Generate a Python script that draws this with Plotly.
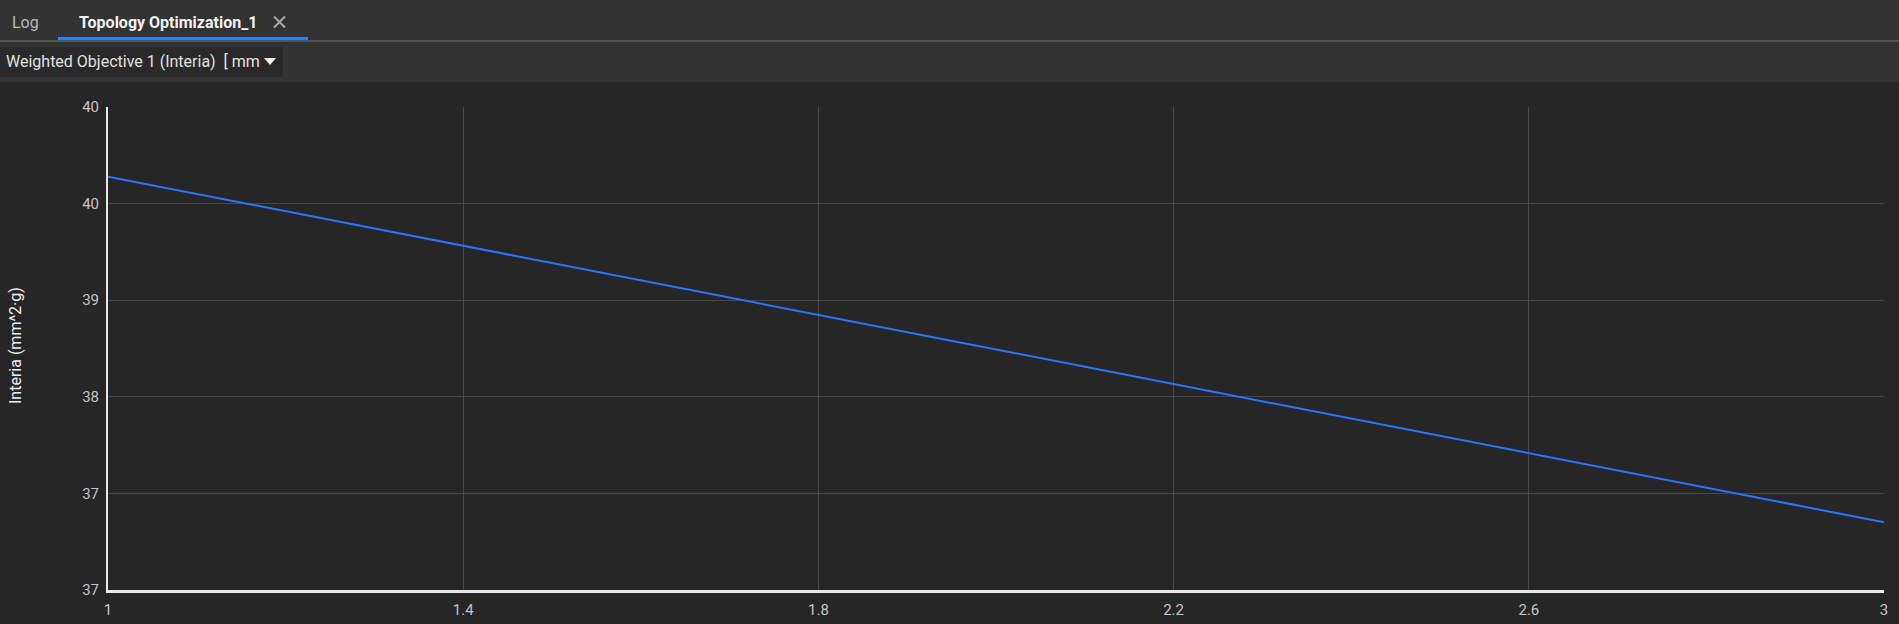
import plotly.graph_objects as go

# ---- data ----
iterations = [1, 2, 3]
inertia = [39.852, 38.492, 37.133]
x_tick_vals = [1, 1.4, 1.8, 2.2, 2.6, 3]
x_tick_text = ["1", "1.4", "1.8", "2.2", "2.6", "3"]
y_tick_vals = [36.6, 37.36, 38.12, 38.88, 39.64, 40.4]
y_tick_text = ["37", "37", "38", "39", "40", "40"]
y_title = "Interia (mm^2·g)"
tab_labels = ["Log", "Topology Optimization_1"]
dropdown_label = "Weighted Objective 1 (Interia)  [ mm"

W, H = 1899, 624
L, R, T, B = 108, 15, 107, 34
PW, PH = W - L - R, H - T - B


def px(x):
    return (x - L) / PW


def py(y):
    return (H - B - y) / PH


FONT = "Roboto"

fig = go.Figure()
fig.add_trace(go.Scatter(
    x=iterations, y=inertia, mode="lines",
    line=dict(color="#2b74ff", width=2), hoverinfo="skip", showlegend=False,
))

shapes = [
    dict(type="rect", xref="paper", yref="paper", x0=px(0), x1=px(W), y0=py(0), y1=py(82),
         fillcolor="#333333", line=dict(width=0), layer="below"),
    dict(type="line", xref="paper", yref="paper", x0=px(0), x1=px(W), y0=py(41), y1=py(41),
         line=dict(color="#555555", width=2)),
    dict(type="line", xref="paper", yref="paper", x0=px(58), x1=px(308), y0=py(38.5), y1=py(38.5),
         line=dict(color="#2f7ff5", width=3)),
    dict(type="rect", xref="paper", yref="paper", x0=px(0), x1=px(283), y0=py(47), y1=py(77),
         fillcolor="#292929", line=dict(width=0)),
    dict(type="path", xref="paper", yref="paper",
         path=f"M {px(264)} {py(58)} L {px(276)} {py(58)} L {px(270)} {py(65)} Z",
         fillcolor="#f0f0f0", line=dict(width=0)),
    # close "x" glyph drawn as two strokes
    dict(type="line", xref="paper", yref="paper", x0=px(274), x1=px(285), y0=py(16.5), y1=py(27.5),
         line=dict(color="#a8a8a8", width=2)),
    dict(type="line", xref="paper", yref="paper", x0=px(274), x1=px(285), y0=py(27.5), y1=py(16.5),
         line=dict(color="#a8a8a8", width=2)),
]

annotations = [
    dict(text=tab_labels[0], x=px(10), y=py(23), xref="paper", yref="paper",
         xanchor="left", yanchor="middle", showarrow=False,
         font=dict(family=FONT, size=16, color="#b8b8b8")),
    dict(text="<b>" + tab_labels[1] + "</b>", x=px(77), y=py(23), xref="paper", yref="paper",
         xanchor="left", yanchor="middle", showarrow=False,
         font=dict(family=FONT, size=16, color="#f2f2f2")),
    dict(text=dropdown_label, x=px(4), y=py(62), xref="paper", yref="paper",
         xanchor="left", yanchor="middle", showarrow=False,
         font=dict(family=FONT, size=16, color="#e0e0e0")),
    dict(text=y_title, x=px(15), y=py(346), xref="paper", yref="paper",
         xanchor="center", yanchor="middle", showarrow=False, textangle=-90,
         font=dict(family=FONT, size=16, color="#eeeeee")),
]

fig.update_layout(
    width=W, height=H,
    margin=dict(l=L, r=R, t=T, b=B, autoexpand=False),
    paper_bgcolor="#262626", plot_bgcolor="#262626",
    shapes=shapes, annotations=annotations,
    xaxis=dict(range=[1, 3], tickmode="array", tickvals=x_tick_vals, ticktext=x_tick_text,
               showgrid=True, gridcolor="#474747", gridwidth=1, zeroline=False,
               showline=True, linecolor="#e8e8e8", linewidth=3, ticks="",
               tickfont=dict(family=FONT, size=15, color="#c4c4c4"), ticklabelstandoff=4),
    yaxis=dict(range=[36.6, 40.4], tickmode="array", tickvals=y_tick_vals, ticktext=y_tick_text,
               showgrid=True, gridcolor="#474747", gridwidth=1, zeroline=False,
               showline=True, linecolor="#e8e8e8", linewidth=2, ticks="",
               tickfont=dict(family=FONT, size=15, color="#c4c4c4"), ticklabelstandoff=4),
    font=dict(family=FONT),
)

fig.write_html(
    "out.html",
    config={"displayModeBar": False},
    post_script="document.body.style.margin='0';document.body.style.background='#262626';document.body.style.overflow='hidden';",
)
